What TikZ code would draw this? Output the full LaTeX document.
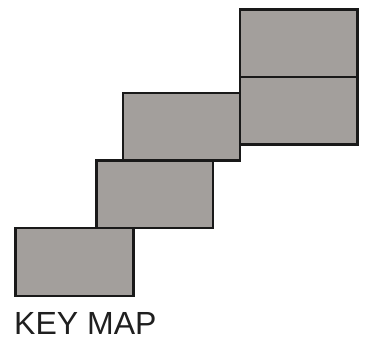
\documentclass[tikz,border=0pt]{standalone}
\usepackage{fontspec}
\setmainfont{Liberation Sans}
\definecolor{tilegray}{HTML}{A39F9C}
\begin{document}
\begin{tikzpicture}[x=1pt,y=-1pt,
  tile/.style={draw=black!90,fill=tilegray,line width=2.6pt},
  label/.style={inner sep=0pt,font=\fontsize{32}{32}\selectfont,text=black!88}]
\useasboundingbox (0,0) rectangle (392,338);
\draw[tile] (240,9.5) rectangle (357.5,77) coordinate (t1);
\draw[tile] (240,77) rectangle (357.5,144.5) coordinate (t2);
\draw[tile] (123,93) rectangle (240,160.5) coordinate (t3);
\draw[tile] (96.5,160.5) rectangle (213,228) coordinate (t4);
\draw[tile] (15.5,228) rectangle (133.5,296) coordinate (t5);
\node[label,anchor=base west] (km) at (14,334.5) {KEY MAP};
\end{tikzpicture}
\end{document}
